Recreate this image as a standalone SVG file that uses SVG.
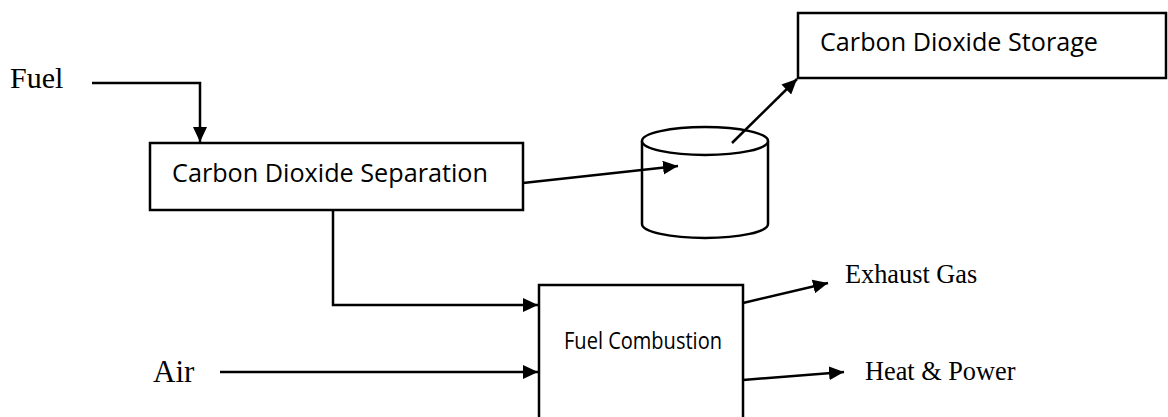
<svg xmlns="http://www.w3.org/2000/svg" width="1168" height="417" viewBox="0 0 1168 417">
  <style>
    .box { fill: #fff; stroke: #000; stroke-width: 2.5; }
    .sans { font-family: "Open Sans", "Liberation Sans", sans-serif; fill: #000; }
    .serif { font-family: "Liberation Serif", "Times New Roman", serif; fill: #000; }
    .wire { fill: none; stroke: #000; stroke-width: 2.5; }
    .arrow { marker-end: url(#head); }
  </style>
  <defs>
    <marker id="head" markerUnits="userSpaceOnUse" markerWidth="16" markerHeight="14" refX="15" refY="7" orient="auto">
      <path d="M0,0 L15,7 L0,14 Z" fill="#000"/>
    </marker>
  </defs>
  <rect width="1168" height="417" fill="#fff"/>

  <!-- inputs / outputs labels -->
  <g id="label-fuel"><text class="serif" x="10" y="88" font-size="30">Fuel</text></g>
  <g id="label-air"><text class="serif" x="153" y="382" font-size="31">Air</text></g>
  <g id="label-exhaust"><text class="serif" x="845" y="283" font-size="26.3">Exhaust Gas</text></g>
  <g id="label-heat"><text class="serif" x="865" y="380" font-size="26.3">Heat &amp; Power</text></g>

  <!-- process boxes -->
  <g id="separation">
    <rect class="box" x="150" y="143" width="373" height="67"/>
    <text class="sans" x="172" y="182" font-size="26" textLength="316" lengthAdjust="spacingAndGlyphs">Carbon Dioxide Separation</text>
  </g>
  <g id="storage">
    <rect class="box" x="798" y="13" width="368" height="65"/>
    <text class="sans" x="820" y="51" font-size="26" textLength="278" lengthAdjust="spacingAndGlyphs">Carbon Dioxide Storage</text>
  </g>
  <g id="combustion">
    <rect class="box" x="539" y="285" width="204" height="140"/>
    <text class="sans" x="564" y="349" font-size="24" textLength="158" lengthAdjust="spacingAndGlyphs">Fuel Combustion</text>
  </g>
  <g id="tank">
    <path class="box" d="M642,141 L642,224 A63,14 0 0 0 768,224 L768,141"/>
    <ellipse class="box" cx="705" cy="141" rx="63" ry="14"/>
  </g>

  <!-- connectors -->
  <g id="connectors">
    <path class="wire arrow" d="M92,83 L200,83 L200,142"/>
    <path class="wire arrow" d="M523,183 L678,166"/>
    <path class="wire arrow" d="M732,143 L797,79"/>
    <path class="wire arrow" d="M333,210 L333,305 L538,305"/>
    <path class="wire arrow" d="M220,372 L538,372"/>
    <path class="wire arrow" d="M743,303 L828,283"/>
    <path class="wire arrow" d="M743,380 L844,372"/>
  </g>
</svg>
